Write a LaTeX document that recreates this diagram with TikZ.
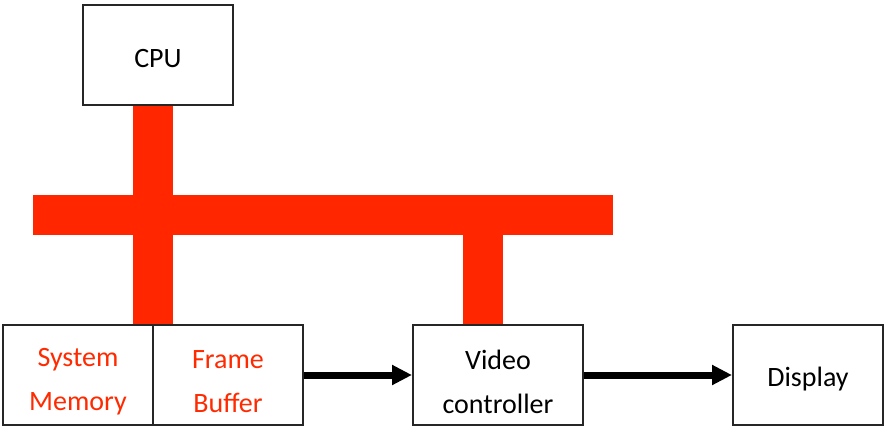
\documentclass[tikz,border=0pt]{standalone}
\usepackage{fontspec}
\setmainfont{Carlito}
\usetikzlibrary{arrows.meta}
\definecolor{busred}{HTML}{FF2600}
\definecolor{txtred}{HTML}{FF2A00}
\tikzset{
  blk/.style={draw=black!85, line width=2pt, fill=white, minimum height=100pt, inner sep=0pt},
  lbl/.style={font=\fontsize{28}{44}\selectfont, align=center, inner sep=0pt},
  one/.style={label={[lbl, yshift=-4pt]center:#1}},
  two/.style={label={[lbl, yshift=-7pt]center:#1}},
  bus/.style={fill=busred, draw=none},
  flow/.style={line width=7pt, -{Triangle[length=20pt,width=19pt]}},
}
\begin{document}
\begin{tikzpicture}[x=1pt,y=-1pt]
\useasboundingbox (0,0) rectangle (888,429);
% bus
\fill[bus] (133,104) rectangle (173,325);
\fill[bus] (33,195) rectangle (613,235);
\fill[bus] (463,235) rectangle (503,325);
% blocks
\node[blk, minimum width=150pt, one={CPU}] (cpu) at (158,55) {};
\node[blk, minimum width=150pt, two={\textcolor{txtred}{System}\\\textcolor{txtred}{Memory}}] (sm) at (78,375) {};
\node[blk, minimum width=150pt, two={\textcolor{txtred}{Frame}\\\textcolor{txtred}{Buffer}}] (fb) at (228,375) {};
\node[blk, minimum width=170pt, two={Video\\controller}] (vc) at (498,375) {};
\node[blk, minimum width=150pt, one={Display}] (disp) at (808,375) {};
% arrows
\draw[flow] (fb.east) -- (vc.west);
\draw[flow] (vc.east) -- (disp.west);
\end{tikzpicture}
\end{document}
